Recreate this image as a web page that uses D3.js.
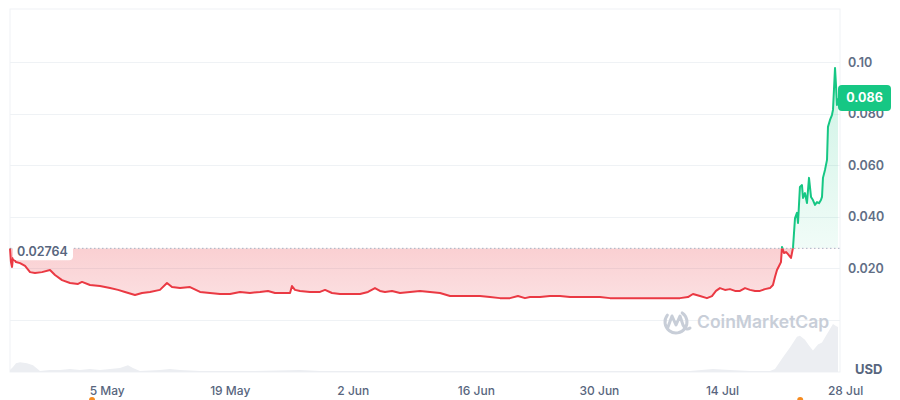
<!DOCTYPE html>
<html><head><meta charset="utf-8">
<script src="https://cdn.jsdelivr.net/npm/d3@7"></script>
<style>body{margin:0;background:#fff;} svg{display:block;font-family:Inter,"Noto Sans",sans-serif;}</style>
</head><body><svg id="c" width="900" height="400"></svg>
<script>
const startDate = "2024-04-24";
const priceDays = [0,0.11,0.23,0.34,0.68,1.14,1.71,2.28,2.84,3.64,
4.55,5.12,5.92,6.83,7.74,8.19,9.10,10.24,11.38,12.29,
13.08,14.22,15.02,15.93,17.06,17.86,18.43,19.34,20.48,21.62,
22.75,23.89,25.03,26.17,27.30,28.44,29.35,30.15,31.29,31.86,
32.08,32.42,32.99,34.13,35.27,35.84,36.63,37.54,38.68,39.82,
40.73,41.52,42.09,42.66,43.46,44.37,45.51,46.64,47.78,48.92,
50.06,51.19,52.33,53.47,54.61,55.75,56.88,57.79,58.59,59.16,
60.30,61.43,62.57,63.71,64.85,65.98,67.12,68.26,69.40,70.53,
71.67,72.81,73.95,75.09,76.22,77.13,77.70,78.50,79.29,79.86,
80.32,80.77,81.34,81.91,82.48,83.05,83.62,84.19,84.76,85.32,
85.89,86.46,86.80,87.03,87.26,87.49,87.71,87.83,88.05,88.28,
88.51,88.85,89.08,89.31,89.53,89.65,89.87,90.10,90.22,90.44,
90.67,90.90,91.13,91.35,91.58,91.81,92.04,92.26,92.38,92.49,
92.72,92.95,93.06,93.29,93.51,93.63,93.74,93.86,93.97,94.08,
94.20];
const priceValues = [0.02764,0.0223,0.0204,0.0239,0.0223,0.0219,0.0208,0.0184,0.0181,0.0184,
0.0192,0.0173,0.0153,0.0142,0.0138,0.0146,0.0134,0.0130,0.0122,0.0115,
0.0107,0.0095,0.0103,0.0107,0.0115,0.0142,0.0126,0.0122,0.0126,0.0107,
0.0103,0.0099,0.0099,0.0107,0.0103,0.0107,0.0111,0.0103,0.0103,0.0103,
0.0130,0.0115,0.0111,0.0107,0.0107,0.0115,0.0103,0.0099,0.0099,0.0099,
0.0107,0.0122,0.0111,0.0107,0.0111,0.0103,0.0107,0.0111,0.0107,0.0103,
0.0091,0.0091,0.0091,0.0091,0.0087,0.0083,0.0083,0.0091,0.0083,0.0087,
0.0087,0.0091,0.0091,0.0087,0.0087,0.0087,0.0087,0.0083,0.0083,0.0083,
0.0083,0.0083,0.0083,0.0083,0.0083,0.0087,0.0099,0.0091,0.0083,0.0091,
0.0111,0.0122,0.0115,0.0118,0.0111,0.0111,0.0122,0.0115,0.0111,0.0111,
0.0118,0.0122,0.0134,0.0165,0.0192,0.0208,0.0223,0.0282,0.0258,0.0262,
0.0254,0.0239,0.0278,0.0394,0.0414,0.0375,0.0515,0.0522,0.0472,0.0491,
0.0452,0.0550,0.0476,0.0464,0.0445,0.0456,0.0452,0.0464,0.0476,0.0550,
0.0581,0.0620,0.0748,0.0775,0.0794,0.0814,0.0891,0.0977,0.0911,0.0833,
0.0860];
const volumeDays = [0,0.34,0.68,1.14,1.93,2.62,3.41,4.55,5.69,6.83,7.96,9.10,10.24,11.38,12.51,13.42,13.99,14.79,17.06,18.20,19.34,21.62,27.30,32.99,35.27,38.68,42.09,44.37,50.06,55.75,67.12,77.36,79.98,81.91,84.19,86.46,87.03,87.94,88.74,89.53,89.87,90.44,90.90,91.35,91.92,92.38,92.83,93.29,93.63,93.97,94.20];
const volumeValues = [2,5,9,10,9,7,1,2,2,3,2,3,2,3,4,7,4,1,2,3,2,1,1,2,1,1,1,1,1,1,1,1,3,2,1,1,3,15,25,36,37,33,27,22,28,30,37,44,49,47,46];
const eventDays = [9.33, 89.9];
const yTicks = [0.02,0.04,0.06,0.08,0.10];
const yTickLabels = ["0.020","0.040","0.060","0.080","0.10"];
const xTickDates = ["2024-05-05","2024-05-19","2024-06-02","2024-06-16","2024-06-30","2024-07-14","2024-07-28"];
const baselinePrice = 0.02764;
const baselineLabel = "0.02764";
const currentPrice = 0.086;
const currentLabel = "0.086";
const currencyLabel = "USD";
const watermark = "CoinMarketCap";

const svg = d3.select("#c");
const parse = d3.timeParse("%Y-%m-%d");
const t0 = parse(startDate);
const toDate = d => new Date(t0.getTime() + d * 864e5);
const price = priceDays.map((d,i)=>({t:toDate(d), v:priceValues[i]}));
const volume = volumeDays.map((d,i)=>({t:toDate(d), v:volumeValues[i]}));

const L = 10, R = 840, T = 9, B = 372;
const x = d3.scaleTime().domain(d3.extent(price, d=>d.t)).range([L, 838]);
const y = d3.scaleLinear().domain([0, 0.10]).range([319.5, 62]);
const yv = d3.scaleLinear().domain([0, 50]).range([B, 323]);
const yBase = y(baselinePrice);

const defs = svg.append("defs");
const gr = defs.append("linearGradient").attr("id","gRed").attr("gradientUnits","userSpaceOnUse")
  .attr("x1",0).attr("x2",0).attr("y1",yBase).attr("y2",y(0.008));
gr.append("stop").attr("offset",0).attr("stop-color","#ea3943").attr("stop-opacity",0.24);
gr.append("stop").attr("offset",1).attr("stop-color","#ea3943").attr("stop-opacity",0.16);
const gg = defs.append("linearGradient").attr("id","gGreen").attr("gradientUnits","userSpaceOnUse")
  .attr("x1",0).attr("x2",0).attr("y1",y(0.1)).attr("y2",yBase);
gg.append("stop").attr("offset",0).attr("stop-color","#16c784").attr("stop-opacity",0.22);
gg.append("stop").attr("offset",1).attr("stop-color","#16c784").attr("stop-opacity",0.06);
defs.append("clipPath").attr("id","cAbove").append("rect").attr("x",0).attr("y",0).attr("width",900).attr("height",yBase);
defs.append("clipPath").attr("id","cBelow").append("rect").attr("x",0).attr("y",yBase).attr("width",900).attr("height",400-yBase);

// frame
svg.append("rect").attr("x",L).attr("y",T).attr("width",R-L).attr("height",B-T)
  .attr("fill","none").attr("stroke","#eff2f5").attr("stroke-width",1);

// grid
svg.append("g").selectAll("line").data([0].concat(yTicks)).join("line")
  .attr("x1",L).attr("x2",R).attr("y1",d=>Math.round(y(d))+0.5).attr("y2",d=>Math.round(y(d))+0.5)
  .attr("stroke","#eff2f5").attr("stroke-width",1);

// volume
svg.append("path").datum(volume)
  .attr("d", d3.area().x(d=>x(d.t)).y0(B).y1(d=>yv(d.v)))
  .attr("fill","#eceef2");

// watermark
const wm = svg.append("g").attr("fill","none").attr("stroke","#c8ced8").attr("stroke-width",3).attr("stroke-linecap","round").attr("stroke-linejoin","round");
wm.append("path").attr("d", d3.arc()({innerRadius:11, outerRadius:11, startAngle:0.6, endAngle:2*Math.PI-0.9}))
  .attr("transform","translate(676,322)");
wm.append("path").attr("d","M668,327 L672,316 L676,325 L680,316 L683,325 Q686,331 690,328");
svg.append("text").attr("x",697).attr("y",322).attr("dy","0.35em").attr("font-size",17.5).attr("font-weight",600)
  .attr("fill","#c8ced8").text(watermark);

// areas
const area = d3.area().x(d=>x(d.t)).y0(yBase).y1(d=>y(d.v));
svg.append("path").datum(price).attr("d",area).attr("fill","url(#gRed)").attr("clip-path","url(#cBelow)");
svg.append("path").datum(price).attr("d",area).attr("fill","url(#gGreen)").attr("clip-path","url(#cAbove)");

// baseline
svg.append("line").attr("x1",L).attr("x2",R).attr("y1",yBase).attr("y2",yBase)
  .attr("stroke","#a6b0c3").attr("stroke-width",1).attr("stroke-dasharray","1.5,2.5");

// lines
const line = d3.line().x(d=>x(d.t)).y(d=>y(d.v));
svg.append("path").datum(price).attr("d",line).attr("fill","none").attr("stroke","#ea3943").attr("stroke-width",2)
  .attr("stroke-linejoin","round").attr("clip-path","url(#cBelow)");
svg.append("path").datum(price).attr("d",line).attr("fill","none").attr("stroke","#16c784").attr("stroke-width",2)
  .attr("stroke-linejoin","round").attr("clip-path","url(#cAbove)");

// baseline label
const bl = svg.append("g");
bl.append("rect").attr("x",13).attr("y",yBase-6).attr("width",60).attr("height",18).attr("rx",4).attr("fill","#fff");
bl.append("text").attr("x",17).attr("y",yBase+3).attr("dy","0.35em").attr("font-size",12.5).attr("font-weight",600)
  .attr("fill","#58667e").text(baselineLabel);

// y axis labels
const yAxis = d3.axisRight(y).tickValues(yTicks).tickFormat((d,i)=>yTickLabels[i]).tickSize(0).tickPadding(0);
const ga = svg.append("g").attr("transform",`translate(848,0)`).call(yAxis);
ga.select(".domain").remove();
ga.selectAll("text").attr("font-family","Inter,'Noto Sans',sans-serif").attr("font-size",12.5).attr("font-weight",600).attr("fill","#616e85");

// current price tag
const cy = y(currentPrice);
svg.append("rect").attr("x",838).attr("y",cy-13).attr("width",53).attr("height",26).attr("rx",4).attr("fill","#16c784");
svg.append("text").attr("x",864.5).attr("y",cy).attr("dy","0.35em").attr("text-anchor","middle").attr("font-size",12.5)
  .attr("font-weight",700).attr("fill","#fff").text(currentLabel);

// USD
svg.append("text").attr("x",855).attr("y",369).attr("dy","0.35em").attr("font-size",13).attr("font-weight",700)
  .attr("fill","#58667e").text(currencyLabel);

// x axis
const xAxis = d3.axisBottom(x).tickValues(xTickDates.map(parse)).tickFormat(d3.timeFormat("%-d %b")).tickSize(0).tickPadding(0);
const gx = svg.append("g").attr("transform",`translate(0,386)`).call(xAxis);
gx.select(".domain").remove();
gx.selectAll("text").attr("font-family","Inter,'Noto Sans',sans-serif").attr("font-size",12).attr("font-weight",500).attr("fill","#58667e");

// event markers
svg.append("g").selectAll("circle").data(eventDays).join("circle")
  .attr("cx",d=>x(toDate(d))).attr("cy",400).attr("r",3).attr("fill","#f68b1f");
</script></body></html>
